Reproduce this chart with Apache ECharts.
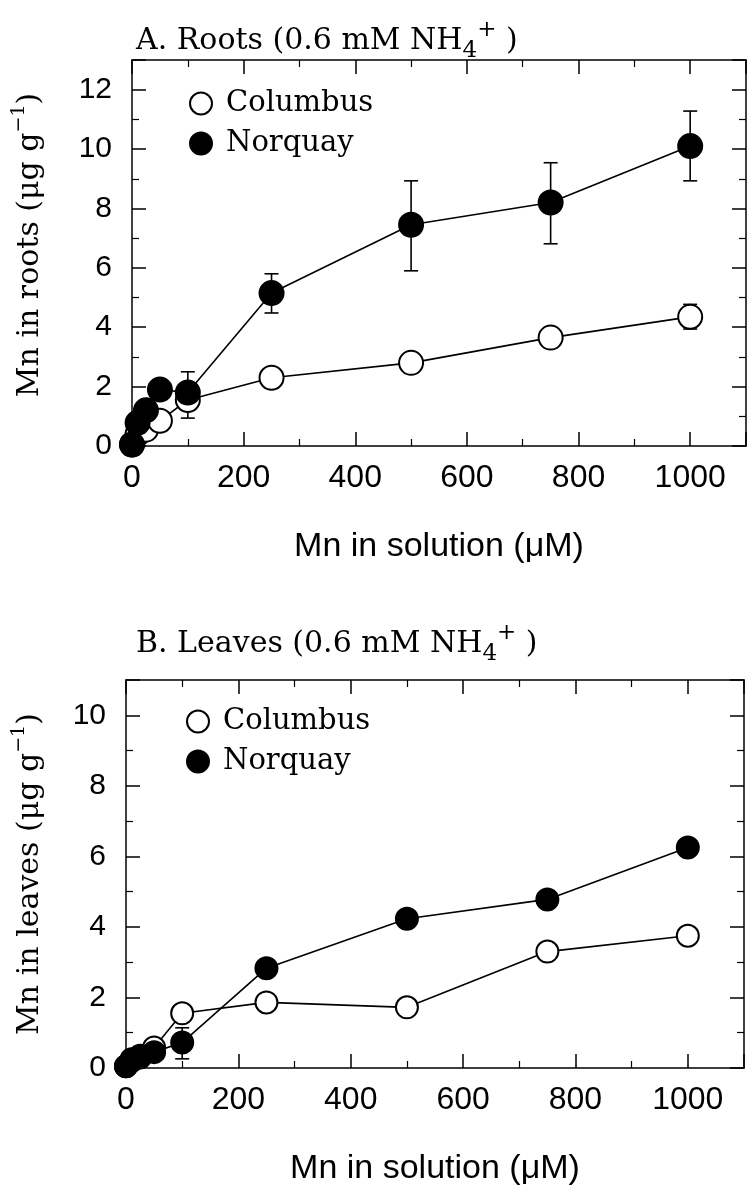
<!DOCTYPE html>
<html>
<head>
<meta charset="utf-8">
<script src="https://cdn.jsdelivr.net/npm/echarts@6/dist/echarts.min.js"></script>
<style>html,body{margin:0;padding:0;background:#fff}#c{width:748px;height:1185px}</style>
</head>
<body>
<div id="c"></div>
<script>
// ---- data ----
const mnSolution = [0, 10, 25, 50, 100, 250, 500, 750, 1000];
const rootsColumbus = [0.05, 0.4, 0.55, 0.85, 1.55, 2.3, 2.8, 3.65, 4.35];
const rootsNorquay  = [0.05, 0.78, 1.2, 1.9, 1.8, 5.15, 7.45, 8.2, 10.1];
const leavesColumbus = [0.05, 0.2, 0.3, 0.58, 1.55, 1.86, 1.72, 3.3, 3.75];
const leavesNorquay  = [0.05, 0.25, 0.35, 0.45, 0.72, 2.83, 4.23, 4.78, 6.25];
// error bars: [x, low, high]
const rootsNorquayErr = [[100, 0.94, 2.5], [250, 4.48, 5.8], [500, 5.9, 8.93], [750, 6.81, 9.54], [1000, 8.93, 11.28]];
const rootsColumbusErr = [[1000, 3.94, 4.77]];
const leavesNorquayErr = [[100, 0.26, 1.14]];
const xTicks = [0, 200, 400, 600, 800, 1000];
const panelTitles = ['A. Roots (0.6 mM NH{sub|4}{sup|+} )', 'B. Leaves (0.6 mM NH{sub|4}{sup|+} )'];
const yTitles = ['Mn in roots (μg g{sup|−1})', 'Mn in leaves (μg g{sup|−1})'];
const xTitle = 'Mn in solution (μM)';
const seriesNames = ['Columbus', 'Norquay'];

const pairs = (xs, ys) => xs.map((x, i) => [x, ys[i]]);
const SANS = 'Liberation Sans';
const SERIF = 'DejaVu Serif';
const axisLineStyle = { color: '#000', width: 1.5 };

function xAxes(gridIndex) {
  const common = {
    type: 'value', gridIndex, min: 0, max: 1100, interval: 200,
    axisLine: { show: true, onZero: false, lineStyle: axisLineStyle },
    axisTick: { show: true, inside: true, length: 14, lineStyle: axisLineStyle },
    minorTick: { show: true, splitNumber: 2, length: 7, lineStyle: { color: '#000', width: 1.2 } },
    splitLine: { show: false }
  };
  return [
    Object.assign({}, common, {
      position: 'bottom',
      name: xTitle, nameLocation: 'middle', nameGap: 84,
      nameTextStyle: { fontFamily: SANS, fontSize: 34, color: '#000' },
      axisLabel: { show: true, margin: 16, fontFamily: SANS, fontSize: 32, color: '#000',
        showMaxLabel: false,
        formatter: v => (xTicks.indexOf(v) >= 0 ? String(v) : '') }
    }),
    Object.assign({}, common, { position: 'top', axisLabel: { show: false } })
  ];
}

function yAxes(gridIndex, max, title, nameGap, shift) {
  const common = {
    type: 'value', gridIndex, min: 0, max, interval: 2,
    axisLine: { show: true, onZero: false, lineStyle: axisLineStyle },
    axisTick: { show: true, inside: true, length: 14, lineStyle: axisLineStyle },
    minorTick: { show: true, splitNumber: 2, length: 7, lineStyle: { color: '#000', width: 1.2 } },
    splitLine: { show: false }
  };
  return [
    Object.assign({}, common, {
      position: 'left',
      name: title, nameLocation: 'middle', nameGap, nameRotate: 90,
      nameTextStyle: { fontFamily: SERIF, fontSize: 30, color: '#000', lineHeight: 40,
        padding: [0, 0, 0, shift],
        rich: { sup: { fontFamily: SERIF, fontSize: 19, lineHeight: 19, verticalAlign: 'top', color: '#000' } } },
      axisLabel: { show: true, margin: 20, fontFamily: SANS, fontSize: 30, color: '#000',
        showMaxLabel: false, formatter: v => (v % 2 === 0 && v <= max - 1 ? String(v) : '') }
    }),
    Object.assign({}, common, { position: 'right', axisLabel: { show: false } })
  ];
}

function lineSeries(name, data, xi, yi, filled, size) {
  return {
    type: 'line', name, data, xAxisIndex: xi, yAxisIndex: yi,
    symbol: 'circle', symbolSize: size, z: filled ? 4 : 3,
    lineStyle: { color: '#000', width: 1.6 },
    itemStyle: { color: filled ? '#000' : '#fff', borderColor: '#000', borderWidth: 2 },
    emphasis: { disabled: true }
  };
}

function errSeries(name, data, xi, yi) {
  return {
    type: 'custom', name, data, xAxisIndex: xi, yAxisIndex: yi, z: 1,
    encode: { x: 0, y: [1, 2] },
    renderItem(params, api) {
      const x = api.value(0);
      const lo = api.coord([x, api.value(1)]);
      const hi = api.coord([x, api.value(2)]);
      const w = 7;
      const st = { stroke: '#000', lineWidth: 1.6 };
      return {
        type: 'group',
        children: [
          { type: 'line', shape: { x1: lo[0], y1: lo[1], x2: hi[0], y2: hi[1] }, style: st },
          { type: 'line', shape: { x1: lo[0] - w, y1: lo[1], x2: lo[0] + w, y2: lo[1] }, style: st },
          { type: 'line', shape: { x1: hi[0] - w, y1: hi[1], x2: hi[0] + w, y2: hi[1] }, style: st }
        ]
      };
    }
  };
}

const titleRich = {
  sub: { fontFamily: SERIF, fontSize: 23, lineHeight: 23, verticalAlign: 'bottom', color: '#000' },
  sup: { fontFamily: SERIF, fontSize: 23, lineHeight: 23, verticalAlign: 'top', color: '#000' }
};

function legendFor(left, top) {
  return {
    orient: 'vertical', left, top, itemWidth: 22, itemHeight: 22, itemGap: 11,
    selectedMode: false,
    textStyle: { fontFamily: SERIF, fontSize: 29, lineHeight: 22, color: '#000', padding: [0, 0, 0, 9] },
    data: [
      { name: seriesNames[0], icon: 'circle', itemStyle: { color: '#fff', borderColor: '#000', borderWidth: 2 } },
      { name: seriesNames[1], icon: 'circle', itemStyle: { color: '#000', borderColor: '#000', borderWidth: 2 } }
    ]
  };
}

const chart = echarts.init(document.getElementById('c'), null, { renderer: 'canvas' });
chart.setOption({
  animation: false,
  backgroundColor: '#fff',
  title: [
    { text: panelTitles[0], left: 131, top: 14,
      textStyle: { fontFamily: SERIF, fontSize: 30, fontWeight: 'normal', color: '#000', lineHeight: 44, rich: titleRich } },
    { text: panelTitles[1], left: 131, top: 617,
      textStyle: { fontFamily: SERIF, fontSize: 30, fontWeight: 'normal', color: '#000', lineHeight: 44, rich: titleRich } }
  ],
  legend: [legendFor(184, 84), legendFor(181, 702)],
  grid: [
    { left: 132, top: 60, width: 614, height: 386, outerBoundsMode: 'none', containLabel: false },
    { left: 126, top: 680, width: 618, height: 388, outerBoundsMode: 'none', containLabel: false }
  ],
  xAxis: [].concat(xAxes(0), xAxes(1)),
  yAxis: [].concat(yAxes(0, 13, yTitles[0], 82, 16), yAxes(1, 11, yTitles[1], 76, 0)),
  series: [
    errSeries('Columbus', rootsColumbusErr, 0, 0),
    errSeries('Norquay', rootsNorquayErr, 0, 0),
    lineSeries('Columbus', pairs(mnSolution, rootsColumbus), 0, 0, false, 24),
    lineSeries('Norquay', pairs(mnSolution, rootsNorquay), 0, 0, true, 24),
    errSeries('Norquay', leavesNorquayErr, 2, 2),
    lineSeries('Columbus', pairs(mnSolution, leavesColumbus), 2, 2, false, 22),
    lineSeries('Norquay', pairs(mnSolution, leavesNorquay), 2, 2, true, 22)
  ]
});
</script>
</body>
</html>
